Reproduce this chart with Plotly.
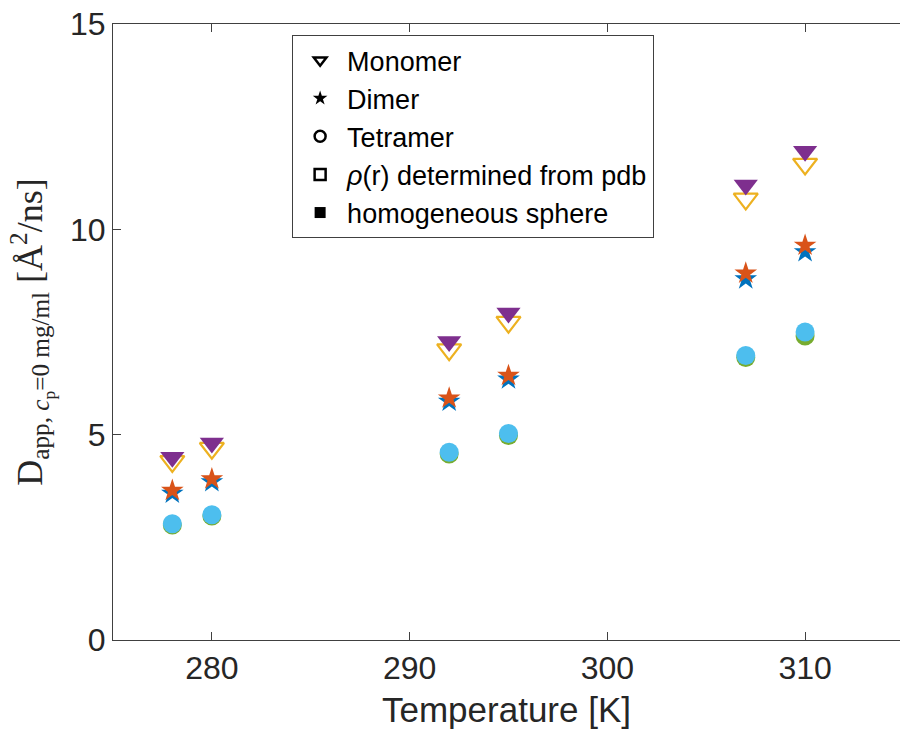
import plotly.graph_objects as go

# ---- data ----
temperature = [278, 280, 292, 295, 307, 310]
monomer_pdb = [4.35, 4.67, 7.07, 7.74, 10.74, 11.59]
monomer_sphere = [4.45, 4.80, 7.27, 7.96, 11.08, 11.90]
dimer_pdb = [3.57, 3.85, 5.81, 6.35, 8.79, 9.45]
dimer_sphere = [3.64, 3.92, 5.89, 6.44, 8.93, 9.61]
tetramer_pdb = [2.80, 3.02, 4.53, 4.98, 6.88, 7.40]
tetramer_sphere = [2.83, 3.05, 4.57, 5.03, 6.93, 7.50]

x_ticks = [280, 290, 300, 310]
y_ticks = [0, 5, 10, 15]
legend_labels = ["Monomer", "Dimer", "Tetramer",
                 "<i>ρ</i>(r) determined from pdb", "homogeneous sphere"]

FONT = "Liberation Sans, Arial, sans-serif"
AXC = "#404040"
TXT = "#262626"

fig = go.Figure()

# data traces (drawing order as in the reference)
series = [
    (dimer_pdb, "star", "#0072BD", 17, None),
    (dimer_sphere, "star", "#D95319", 17, None),
    (monomer_pdb, "triangle-down-open", "#EDB120", 21, 2.2),
    (monomer_sphere, "triangle-down", "#7E2F8E", 21, None),
    (tetramer_pdb, "circle", "#77AC30", 19, None),
    (tetramer_sphere, "circle", "#4DBEEE", 19, None),
]
for vals, sym, col, sz, lw in series:
    mk = dict(symbol=sym, color=col, size=sz, line=dict(width=0))
    if lw:
        mk["line"] = dict(width=lw, color=col)
    fig.add_trace(go.Scatter(x=temperature, y=vals, mode="markers",
                             marker=mk, showlegend=False, hoverinfo="skip"))

# legend-only dummy traces
leg_syms = [("triangle-down-open", 2.5), ("star", 0), ("circle-open", 2.5),
            ("square-open", 2.5), ("square", 0)]
for i, (lab, (sym, lw)) in enumerate(zip(legend_labels, leg_syms)):
    fig.add_trace(go.Scatter(x=[None], y=[None], mode="markers", name=lab,
                             legendgroup=f"g{i}",
                             marker=dict(symbol=sym, color="black", size=11,
                                         line=dict(width=lw, color="black"))))

fig.update_layout(
    width=900, height=735,
    margin=dict(l=113, r=0, t=24, b=95, pad=0),
    paper_bgcolor="white", plot_bgcolor="white",
    font=dict(family=FONT, color=TXT, size=32),
    legend=dict(x=0.2276, y=0.982, xanchor="left", yanchor="top",
                bgcolor="white", bordercolor=AXC, borderwidth=1,
                font=dict(size=27, family=FONT, color="black"),
                itemwidth=44, tracegroupgap=0, traceorder="grouped"),
    xaxis=dict(range=[275, 314.8], tickvals=x_ticks, ticks="inside",
               ticklen=8, tickcolor=AXC, showline=True, linecolor=AXC,
               linewidth=1, mirror="ticks", showgrid=False, zeroline=False,
               tickfont=dict(size=32, color=TXT),
               title=dict(text="Temperature [K]", font=dict(size=35, color=TXT),
                          standoff=12)),
    yaxis=dict(range=[0, 15], tickvals=y_ticks, ticks="inside",
               ticklen=8, tickcolor=AXC, showline=True, linecolor=AXC,
               linewidth=1, mirror=False, showgrid=False, zeroline=False,
               tickfont=dict(size=32, color=TXT),
               title=dict(text="D<sub>app, <i>c</i><sub>p</sub>=0 mg/ml</sub> [Å<sup>2</sup>/ns]",
                          font=dict(size=36, color=TXT,
                                    family="Liberation Serif, DejaVu Serif, serif"),
                          standoff=16)),
)

fig.write_html("out.html")
